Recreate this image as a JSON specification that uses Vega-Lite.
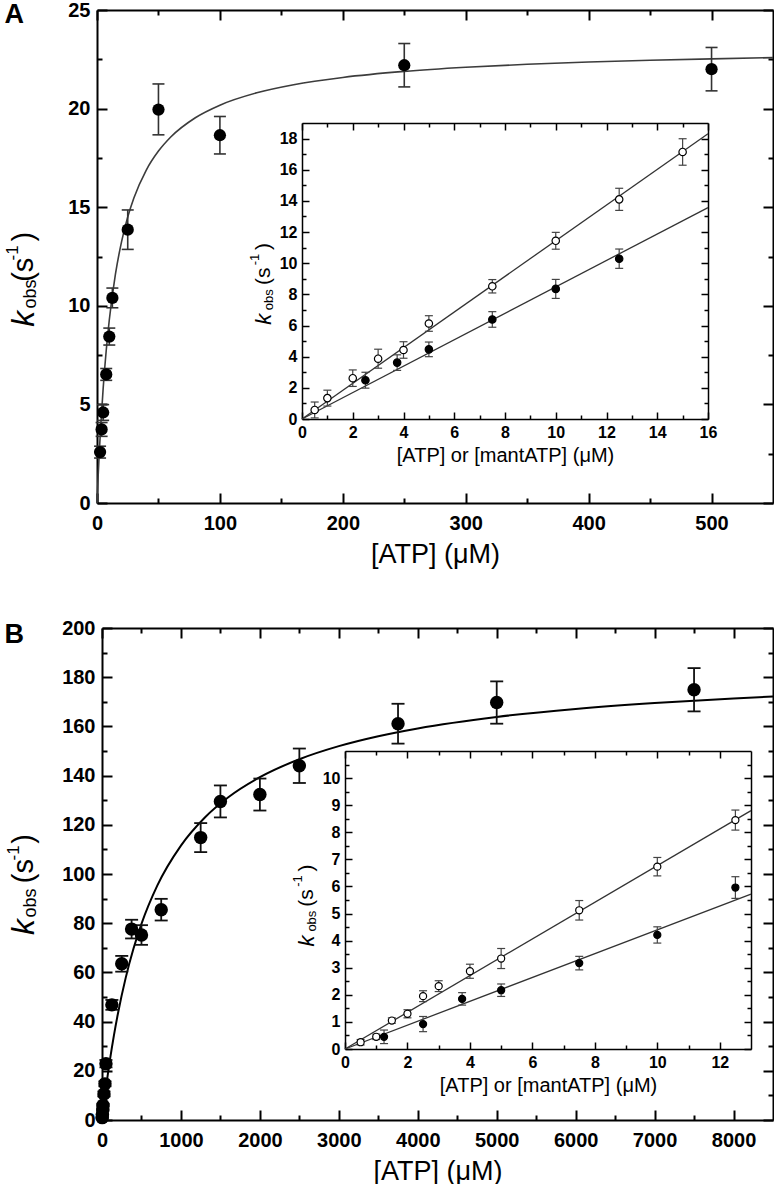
{
"$schema":"https://vega.github.io/schema/vega-lite/v6.json",
"padding":{"left":4,"top":0,"right":0,"bottom":0},
"background":"white",
"spacing":125,
"bounds":"flush",
"config":{"view":{"stroke":null},"axis":{"tickColor":"black","domainColor":"black","labelColor":"black","titleColor":"black","grid":false,"labelFont":"Liberation Sans","titleFont":"Liberation Sans","labelFontWeight":"bold","titleFontWeight":"normal","labelFlush":false,"labelOverlap":false,"labelBound":false,"format":"d","title":null}},
"datasets":{
"am":[{"x":2.5,"k":2.58,"lo":2.28,"hi":2.88},{"x":3.75,"k":3.73,"lo":3.38,"hi":4.08},{"x":5,"k":4.59,"lo":4.19,"hi":4.99},{"x":7.5,"k":6.52,"lo":6.22,"hi":6.82},{"x":10,"k":8.44,"lo":8.01,"hi":8.87},{"x":12.5,"k":10.4,"lo":9.9,"hi":10.9},{"x":25,"k":13.86,"lo":12.86,"hi":14.86},{"x":50,"k":19.95,"lo":18.67,"hi":21.25},{"x":100,"k":18.65,"lo":17.7,"hi":19.6},{"x":250,"k":22.2,"lo":21.1,"hi":23.3},{"x":500,"k":22.0,"lo":20.9,"hi":23.1}],
"af":[{"x":0,"k":0},{"x":1,"k":1.45},{"x":2,"k":2.729},{"x":3,"k":3.867},{"x":5,"k":5.8},{"x":7.5,"k":7.733},{"x":10,"k":9.28},{"x":15,"k":11.6},{"x":20,"k":13.257},{"x":25,"k":14.5},{"x":30,"k":15.467},{"x":40,"k":16.873},{"x":50,"k":17.846},{"x":60,"k":18.56},{"x":80,"k":19.537},{"x":100,"k":20.174},{"x":130,"k":20.8},{"x":160,"k":21.211},{"x":200,"k":21.581},{"x":250,"k":21.887},{"x":300,"k":22.095},{"x":350,"k":22.247},{"x":400,"k":22.361},{"x":450,"k":22.452},{"x":500,"k":22.524},{"x":550,"k":22.584}],
"ai":[{"x":0.5,"k":0.58,"lo":0.07,"hi":1.09,"type":"mantATP"},{"x":1,"k":1.34,"lo":0.83,"hi":1.85,"type":"mantATP"},{"x":2,"k":2.62,"lo":2.09,"hi":3.15,"type":"mantATP"},{"x":3,"k":3.87,"lo":3.26,"hi":4.48,"type":"mantATP"},{"x":4,"k":4.43,"lo":3.9,"hi":4.96,"type":"mantATP"},{"x":5,"k":6.13,"lo":5.63,"hi":6.63,"type":"mantATP"},{"x":7.5,"k":8.52,"lo":8.09,"hi":8.95,"type":"mantATP"},{"x":10,"k":11.44,"lo":10.9,"hi":11.98,"type":"mantATP"},{"x":12.5,"k":14.1,"lo":13.39,"hi":14.81,"type":"mantATP"},{"x":15,"k":17.14,"lo":16.29,"hi":17.99,"type":"mantATP"},{"x":2.5,"k":2.49,"lo":1.98,"hi":3.0,"type":"ATP"},{"x":3.75,"k":3.62,"lo":3.12,"hi":4.12,"type":"ATP"},{"x":5,"k":4.47,"lo":4.0,"hi":4.94,"type":"ATP"},{"x":7.5,"k":6.39,"lo":5.89,"hi":6.89,"type":"ATP"},{"x":10,"k":8.35,"lo":7.74,"hi":8.96,"type":"ATP"},{"x":12.5,"k":10.29,"lo":9.67,"hi":10.91,"type":"ATP"}],
"aif":[{"x":0,"k":0,"type":"mantATP"},{"x":16,"k":18.31,"type":"mantATP"},{"x":0,"k":0,"type":"ATP"},{"x":16,"k":13.57,"type":"ATP"}],
"bm":[{"x":2.5,"k":0.95,"lo":0.65,"hi":1.25},{"x":5,"k":2.2,"lo":1.9,"hi":2.5},{"x":10,"k":4.2,"lo":3.8,"hi":4.6},{"x":12.5,"k":6.0,"lo":5.5,"hi":6.5},{"x":25,"k":10.6,"lo":9.6,"hi":11.6},{"x":37.5,"k":14.7,"lo":13.7,"hi":15.7},{"x":50,"k":22.9,"lo":21.4,"hi":24.4},{"x":125,"k":46.8,"lo":44.8,"hi":48.8},{"x":250,"k":63.5,"lo":60.3,"hi":66.7},{"x":375,"k":77.6,"lo":73.8,"hi":81.4},{"x":500,"k":75.2,"lo":71.2,"hi":79.2},{"x":750,"k":85.5,"lo":81.1,"hi":89.9},{"x":1250,"k":114.8,"lo":108.9,"hi":120.7},{"x":1500,"k":129.5,"lo":123,"hi":136},{"x":2000,"k":132.3,"lo":125.8,"hi":138.8},{"x":2500,"k":144,"lo":137,"hi":151},{"x":3750,"k":161.1,"lo":153,"hi":169.2},{"x":5000,"k":169.7,"lo":161.1,"hi":178.3},{"x":7500,"k":174.9,"lo":166.1,"hi":183.7}],
"bf":[{"x":0,"k":0},{"x":10,"k":2.754},{"x":25,"k":6.736},{"x":50,"k":13.001},{"x":75,"k":18.841},{"x":100,"k":24.3},{"x":150,"k":34.21},{"x":200,"k":42.973},{"x":300,"k":57.771},{"x":400,"k":69.788},{"x":500,"k":79.739},{"x":700,"k":95.263},{"x":1000,"k":111.552},{"x":1300,"k":122.864},{"x":1600,"k":131.178},{"x":2000,"k":139.35},{"x":2500,"k":146.659},{"x":3000,"k":151.974},{"x":3500,"k":156.011},{"x":4000,"k":159.184},{"x":5000,"k":163.847},{"x":6000,"k":167.112},{"x":7000,"k":169.525},{"x":8000,"k":171.38},{"x":8500,"k":172.155}],
"bi":[{"x":0.5,"k":0.25,"lo":0.15,"hi":0.35,"type":"mantATP"},{"x":1,"k":0.45,"lo":0.35,"hi":0.55,"type":"mantATP"},{"x":1.5,"k":1.05,"lo":0.95,"hi":1.15,"type":"mantATP"},{"x":2,"k":1.3,"lo":1.15,"hi":1.45,"type":"mantATP"},{"x":2.5,"k":1.95,"lo":1.75,"hi":2.15,"type":"mantATP"},{"x":3,"k":2.32,"lo":2.12,"hi":2.52,"type":"mantATP"},{"x":4,"k":2.87,"lo":2.61,"hi":3.13,"type":"mantATP"},{"x":5,"k":3.34,"lo":2.97,"hi":3.71,"type":"mantATP"},{"x":7.5,"k":5.12,"lo":4.76,"hi":5.48,"type":"mantATP"},{"x":10,"k":6.73,"lo":6.39,"hi":7.07,"type":"mantATP"},{"x":12.5,"k":8.45,"lo":8.08,"hi":8.82,"type":"mantATP"},{"x":1.25,"k":0.45,"lo":0.2,"hi":0.7,"type":"ATP"},{"x":2.5,"k":0.92,"lo":0.64,"hi":1.2,"type":"ATP"},{"x":3.75,"k":1.85,"lo":1.62,"hi":2.08,"type":"ATP"},{"x":5,"k":2.17,"lo":1.94,"hi":2.4,"type":"ATP"},{"x":7.5,"k":3.17,"lo":2.92,"hi":3.42,"type":"ATP"},{"x":10,"k":4.21,"lo":3.91,"hi":4.51,"type":"ATP"},{"x":12.5,"k":5.96,"lo":5.56,"hi":6.36,"type":"ATP"}],
"bif":[{"x":0,"k":0,"type":"mantATP"},{"x":13,"k":8.8,"type":"mantATP"},{"x":0,"k":0,"type":"ATP"},{"x":13,"k":5.72,"type":"ATP"}]
},
"vconcat":[
{"width":676,"height":493,
 "resolve":{"scale":{"x":"independent","y":"independent"},"axis":{"x":"independent","y":"independent"}},
 "layer":[
  {"resolve":{"axis":{"x":"independent","y":"independent"}},
   "layer":[
    {"data":{"name":"af"},"mark":{"type":"line","color":"#3c3c3c","strokeWidth":1.6,"interpolate":"monotone"},
     "encoding":{"x":{"field":"x","type":"quantitative","scale":{"domain":[0,550],"nice":false,"zero":false},"axis":{"orient":"bottom","values":[0,100,200,300,400,500],"ticks":false,"tickSize":0,"domainWidth":2,"labelFontSize":20,"labelPadding":10,"title":"[ATP] (μM)","titleFontSize":27,"titlePadding":8}},
                 "y":{"field":"k","type":"quantitative","scale":{"domain":[0,25],"nice":false},"axis":{"orient":"left","values":[0,5,10,15,20,25],"ticks":false,"tickSize":0,"domainWidth":2,"labelFontSize":20,"labelPadding":7}}}},
    {"data":{"name":"am"},"mark":{"type":"rule","color":"#333333","strokeWidth":1.6},
     "encoding":{"x":{"field":"x","type":"quantitative","scale":{"domain":[0,550],"nice":false,"zero":false},"axis":{"orient":"top","offset":-493,"values":[0,100,200,300,400,500],"tickSize":10,"tickWidth":2,"domain":false,"labels":false}},
                 "y":{"field":"lo","type":"quantitative","scale":{"domain":[0,25],"nice":false},"axis":{"orient":"right","offset":-676,"values":[0,5,10,15,20,25],"tickSize":10,"tickWidth":2,"domain":false,"labels":false}},
                 "y2":{"field":"hi"}}},
    {"data":{"name":"am"},"mark":{"type":"tick","orient":"horizontal","size":12,"thickness":1.6,"color":"#333333","opacity":1},
     "encoding":{"x":{"field":"x","type":"quantitative","scale":{"domain":[0,550],"nice":false,"zero":false},"axis":{"orient":"top","offset":-493,"values":[50,150,250,350,450],"tickSize":5,"tickWidth":2,"domain":false,"labels":false}},
                 "y":{"field":"lo","type":"quantitative","scale":{"domain":[0,25],"nice":false},"axis":{"orient":"right","offset":-676,"values":[2.5,7.5,12.5,17.5,22.5],"tickSize":5,"tickWidth":2,"domain":false,"labels":false}}}},
    {"data":{"name":"am"},"mark":{"type":"tick","orient":"horizontal","size":12,"thickness":1.6,"color":"#333333","opacity":1},
     "encoding":{"x":{"field":"x","type":"quantitative","scale":{"domain":[0,550],"nice":false,"zero":false},"axis":{"orient":"bottom","offset":-493,"values":[0,100,200,300,400,500],"tickSize":10,"tickWidth":2,"domainWidth":2,"labels":false}},
                 "y":{"field":"hi","type":"quantitative","scale":{"domain":[0,25],"nice":false},"axis":{"orient":"left","offset":-676,"values":[0,5,10,15,20,25],"tickSize":10,"tickWidth":2,"domainWidth":2,"labels":false}}}},
    {"data":{"name":"am"},"mark":{"type":"point","filled":true,"size":150,"color":"black","opacity":1},
     "encoding":{"x":{"field":"x","type":"quantitative","scale":{"domain":[0,550],"nice":false,"zero":false},"axis":{"orient":"bottom","offset":-493,"values":[50,150,250,350,450],"tickSize":5,"tickWidth":2,"domain":false,"labels":false}},
                 "y":{"field":"k","type":"quantitative","scale":{"domain":[0,25],"nice":false},"axis":{"orient":"left","offset":-676,"values":[2.5,7.5,12.5,17.5,22.5],"tickSize":5,"tickWidth":2,"domain":false,"labels":false}}}},
    {"data":{"values":[{}]},"mark":{"type":"text","text":"A","font":"Liberation Sans","fontWeight":"bold","fontSize":27,"align":"center","baseline":"middle","color":"black"},
     "encoding":{"x":{"datum":-67.3,"type":"quantitative","scale":{"domain":[0,550],"nice":false,"zero":false},"axis":null},"y":{"datum":24.77,"type":"quantitative","scale":{"domain":[0,25],"nice":false},"axis":null}}},
    {"data":{"values":[{}]},"mark":{"type":"text","text":"k","font":"Liberation Sans","fontStyle":"italic","fontSize":32,"angle":270,"align":"center","baseline":"middle","color":"black"},
     "encoding":{"x":{"datum":-59.1,"type":"quantitative","scale":{"domain":[0,550],"nice":false,"zero":false},"axis":null},"y":{"datum":9.34,"type":"quantitative","scale":{"domain":[0,25],"nice":false},"axis":null}}},
    {"data":{"values":[{}]},"mark":{"type":"text","text":"obs","font":"Liberation Sans","fontSize":18,"angle":270,"align":"center","baseline":"middle","color":"black"},
     "encoding":{"x":{"datum":-53.7,"type":"quantitative","scale":{"domain":[0,550],"nice":false,"zero":false},"axis":null},"y":{"datum":10.6,"type":"quantitative","scale":{"domain":[0,25],"nice":false},"axis":null}}},
    {"data":{"values":[{}]},"mark":{"type":"text","text":"(s","font":"Liberation Sans","fontSize":29,"angle":270,"align":"center","baseline":"middle","color":"black"},
     "encoding":{"x":{"datum":-59.1,"type":"quantitative","scale":{"domain":[0,550],"nice":false,"zero":false},"axis":null},"y":{"datum":11.83,"type":"quantitative","scale":{"domain":[0,25],"nice":false},"axis":null}}},
    {"data":{"values":[{}]},"mark":{"type":"text","text":"-1","font":"Liberation Sans","fontSize":17,"angle":270,"align":"center","baseline":"middle","color":"black"},
     "encoding":{"x":{"datum":-68.1,"type":"quantitative","scale":{"domain":[0,550],"nice":false,"zero":false},"axis":null},"y":{"datum":12.68,"type":"quantitative","scale":{"domain":[0,25],"nice":false},"axis":null}}},
    {"data":{"values":[{}]},"mark":{"type":"text","text":")","font":"Liberation Sans","fontSize":29,"angle":270,"align":"center","baseline":"middle","color":"black"},
     "encoding":{"x":{"datum":-59.1,"type":"quantitative","scale":{"domain":[0,550],"nice":false,"zero":false},"axis":null},"y":{"datum":13.51,"type":"quantitative","scale":{"domain":[0,25],"nice":false},"axis":null}}}
   ]},
  {"resolve":{"axis":{"x":"independent","y":"independent"}},
   "layer":[
    {"data":{"name":"aif"},"mark":{"type":"line","color":"#333333","strokeWidth":1.3},
     "encoding":{"detail":{"field":"type"},
                 "x":{"field":"x","type":"quantitative","scale":{"domain":[0,16],"range":[205,611],"nice":false,"zero":false},"axis":{"orient":"bottom","offset":-84,"values":[0,2,4,6,8,10,12,14,16],"ticks":false,"tickSize":0,"domainWidth":1.5,"labelFontSize":16,"labelPadding":5,"title":"[ATP] or [mantATP] (μM)","titleFontSize":20,"titlePadding":5}},
                 "y":{"field":"k","type":"quantitative","scale":{"domain":[0,19],"range":[409,113],"nice":false,"zero":false},"axis":{"orient":"left","offset":-205,"values":[0,2,4,6,8,10,12,14,16,18],"ticks":false,"tickSize":0,"domainWidth":1.5,"labelFontSize":16,"labelPadding":5}}}},
    {"data":{"name":"ai"},"mark":{"type":"rule","color":"#444444","strokeWidth":1.2},
     "encoding":{"x":{"field":"x","type":"quantitative","scale":{"domain":[0,16],"range":[205,611],"nice":false,"zero":false},"axis":{"orient":"top","offset":-409,"values":[0,2,4,6,8,10,12,14,16],"tickSize":7,"tickWidth":1.5,"domain":false,"labels":false}},
                 "y":{"field":"lo","type":"quantitative","scale":{"domain":[0,19],"range":[409,113],"nice":false,"zero":false},"axis":{"orient":"right","offset":-471,"values":[0,2,4,6,8,10,12,14,16,18],"tickSize":7,"tickWidth":1.5,"domain":false,"labels":false}},
                 "y2":{"field":"hi"}}},
    {"data":{"name":"ai"},"mark":{"type":"tick","orient":"horizontal","size":8,"thickness":1.2,"color":"#444444","opacity":1},
     "encoding":{"x":{"field":"x","type":"quantitative","scale":{"domain":[0,16],"range":[205,611],"nice":false,"zero":false},"axis":{"orient":"top","offset":-409,"values":[1,3,5,7,9,11,13,15],"tickSize":4,"tickWidth":1.5,"domain":false,"labels":false}},
                 "y":{"field":"lo","type":"quantitative","scale":{"domain":[0,19],"range":[409,113],"nice":false,"zero":false},"axis":{"orient":"right","offset":-471,"values":[1,3,5,7,9,11,13,15,17],"tickSize":4,"tickWidth":1.5,"domain":false,"labels":false}}}},
    {"data":{"name":"ai"},"mark":{"type":"tick","orient":"horizontal","size":8,"thickness":1.2,"color":"#444444","opacity":1},
     "encoding":{"x":{"field":"x","type":"quantitative","scale":{"domain":[0,16],"range":[205,611],"nice":false,"zero":false},"axis":{"orient":"bottom","offset":-380,"values":[0,2,4,6,8,10,12,14,16],"tickSize":7,"tickWidth":1.5,"domainWidth":1.5,"labels":false}},
                 "y":{"field":"hi","type":"quantitative","scale":{"domain":[0,19],"range":[409,113],"nice":false,"zero":false},"axis":{"orient":"left","offset":-611,"values":[0,2,4,6,8,10,12,14,16,18],"tickSize":7,"tickWidth":1.5,"domainWidth":1.5,"labels":false}}}},
    {"data":{"name":"ai"},"mark":{"type":"point","shape":"circle","size":55,"stroke":"black","strokeWidth":1.2,"opacity":1,"fillOpacity":1},
     "encoding":{"fill":{"field":"type","type":"nominal","scale":{"domain":["ATP","mantATP"],"range":["black","white"]},"legend":null},
                 "x":{"field":"x","type":"quantitative","scale":{"domain":[0,16],"range":[205,611],"nice":false,"zero":false},"axis":{"orient":"bottom","offset":-380,"values":[1,3,5,7,9,11,13,15],"tickSize":4,"tickWidth":1.5,"domain":false,"labels":false}},
                 "y":{"field":"k","type":"quantitative","scale":{"domain":[0,19],"range":[409,113],"nice":false,"zero":false},"axis":{"orient":"left","offset":-611,"values":[1,3,5,7,9,11,13,15,17],"tickSize":4,"tickWidth":1.5,"domain":false,"labels":false}}}},
    {"data":{"values":[{}]},"mark":{"type":"text","text":"k","font":"Liberation Sans","fontStyle":"italic","fontSize":22,"angle":270,"align":"center","baseline":"middle","color":"black"},
     "encoding":{"x":{"datum":-1.495,"type":"quantitative","scale":{"domain":[0,16],"range":[205,611],"nice":false,"zero":false},"axis":null},"y":{"datum":6.41,"type":"quantitative","scale":{"domain":[0,19],"range":[409,113],"nice":false,"zero":false},"axis":null}}},
    {"data":{"values":[{}]},"mark":{"type":"text","text":"obs","font":"Liberation Sans","fontSize":13,"angle":270,"align":"center","baseline":"middle","color":"black"},
     "encoding":{"x":{"datum":-1.3,"type":"quantitative","scale":{"domain":[0,16],"range":[205,611],"nice":false,"zero":false},"axis":null},"y":{"datum":7.66,"type":"quantitative","scale":{"domain":[0,19],"range":[409,113],"nice":false,"zero":false},"axis":null}}},
    {"data":{"values":[{}]},"mark":{"type":"text","text":"(s","font":"Liberation Sans","fontSize":21,"angle":270,"align":"center","baseline":"middle","color":"black"},
     "encoding":{"x":{"datum":-1.495,"type":"quantitative","scale":{"domain":[0,16],"range":[205,611],"nice":false,"zero":false},"axis":null},"y":{"datum":9.16,"type":"quantitative","scale":{"domain":[0,19],"range":[409,113],"nice":false,"zero":false},"axis":null}}},
    {"data":{"values":[{}]},"mark":{"type":"text","text":"-1","font":"Liberation Sans","fontSize":13,"angle":270,"align":"center","baseline":"middle","color":"black"},
     "encoding":{"x":{"datum":-1.85,"type":"quantitative","scale":{"domain":[0,16],"range":[205,611],"nice":false,"zero":false},"axis":null},"y":{"datum":10.24,"type":"quantitative","scale":{"domain":[0,19],"range":[409,113],"nice":false,"zero":false},"axis":null}}},
    {"data":{"values":[{}]},"mark":{"type":"text","text":")","font":"Liberation Sans","fontSize":21,"angle":270,"align":"center","baseline":"middle","color":"black"},
     "encoding":{"x":{"datum":-1.495,"type":"quantitative","scale":{"domain":[0,16],"range":[205,611],"nice":false,"zero":false},"axis":null},"y":{"datum":11.07,"type":"quantitative","scale":{"domain":[0,19],"range":[409,113],"nice":false,"zero":false},"axis":null}}}
   ]}
 ]},
{"width":676,"height":492,
 "resolve":{"scale":{"x":"independent","y":"independent"},"axis":{"x":"independent","y":"independent"}},
 "layer":[
  {"resolve":{"axis":{"x":"independent","y":"independent"}},
   "layer":[
    {"data":{"name":"bf"},"mark":{"type":"line","color":"black","strokeWidth":2,"interpolate":"monotone"},
     "encoding":{"x":{"field":"x","type":"quantitative","scale":{"domain":[0,8500],"range":[5,676],"nice":false,"zero":false},"axis":{"orient":"bottom","values":[0,1000,2000,3000,4000,5000,6000,7000,8000],"ticks":false,"tickSize":0,"domainWidth":2,"labelFontSize":20,"labelPadding":10,"title":"[ATP] (μM)","titleFontSize":27,"titlePadding":8}},
                 "y":{"field":"k","type":"quantitative","scale":{"domain":[0,200],"nice":false},"axis":{"orient":"left","offset":-5,"values":[0,20,40,60,80,100,120,140,160,180,200],"ticks":false,"tickSize":0,"domainWidth":2,"labelFontSize":20,"labelPadding":7}}}},
    {"data":{"name":"bm"},"mark":{"type":"rule","color":"#111111","strokeWidth":1.8},
     "encoding":{"x":{"field":"x","type":"quantitative","scale":{"domain":[0,8500],"range":[5,676],"nice":false,"zero":false},"axis":{"orient":"top","offset":-492,"values":[0,1000,2000,3000,4000,5000,6000,7000,8000],"tickSize":10,"tickWidth":2,"domain":false,"labels":false}},
                 "y":{"field":"lo","type":"quantitative","scale":{"domain":[0,200],"nice":false},"axis":{"orient":"right","offset":-671,"values":[0,20,40,60,80,100,120,140,160,180,200],"tickSize":10,"tickWidth":2,"domain":false,"labels":false}},
                 "y2":{"field":"hi"}}},
    {"data":{"name":"bm"},"mark":{"type":"tick","orient":"horizontal","size":13,"thickness":1.8,"color":"#111111","opacity":1},
     "encoding":{"x":{"field":"x","type":"quantitative","scale":{"domain":[0,8500],"range":[5,676],"nice":false,"zero":false},"axis":{"orient":"top","offset":-492,"values":[500,1500,2500,3500,4500,5500,6500,7500],"tickSize":5,"tickWidth":2,"domain":false,"labels":false}},
                 "y":{"field":"lo","type":"quantitative","scale":{"domain":[0,200],"nice":false},"axis":{"orient":"right","offset":-671,"values":[10,30,50,70,90,110,130,150,170,190],"tickSize":5,"tickWidth":2,"domain":false,"labels":false}}}},
    {"data":{"name":"bm"},"mark":{"type":"tick","orient":"horizontal","size":13,"thickness":1.8,"color":"#111111","opacity":1},
     "encoding":{"x":{"field":"x","type":"quantitative","scale":{"domain":[0,8500],"range":[5,676],"nice":false,"zero":false},"axis":{"orient":"bottom","offset":-492,"values":[0,1000,2000,3000,4000,5000,6000,7000,8000],"tickSize":10,"tickWidth":2,"domainWidth":2,"labels":false}},
                 "y":{"field":"hi","type":"quantitative","scale":{"domain":[0,200],"nice":false},"axis":{"orient":"left","offset":-676,"values":[0,20,40,60,80,100,120,140,160,180,200],"tickSize":10,"tickWidth":2,"domainWidth":2,"labels":false}}}},
    {"data":{"name":"bm"},"mark":{"type":"point","filled":true,"size":180,"color":"black","opacity":1},
     "encoding":{"x":{"field":"x","type":"quantitative","scale":{"domain":[0,8500],"range":[5,676],"nice":false,"zero":false},"axis":{"orient":"bottom","offset":-492,"values":[500,1500,2500,3500,4500,5500,6500,7500],"tickSize":5,"tickWidth":2,"domain":false,"labels":false}},
                 "y":{"field":"k","type":"quantitative","scale":{"domain":[0,200],"nice":false},"axis":{"orient":"left","offset":-676,"values":[10,30,50,70,90,110,130,150,170,190],"tickSize":5,"tickWidth":2,"domain":false,"labels":false}}}},
    {"data":{"values":[{}]},"mark":{"type":"text","text":"B","font":"Liberation Sans","fontWeight":"bold","fontSize":27,"align":"center","baseline":"middle","color":"black"},
     "encoding":{"x":{"datum":-1111,"type":"quantitative","scale":{"domain":[0,8500],"range":[5,676],"nice":false,"zero":false},"axis":null},"y":{"datum":197,"type":"quantitative","scale":{"domain":[0,200],"nice":false},"axis":null}}},
    {"data":{"values":[{}]},"mark":{"type":"text","text":"k","font":"Liberation Sans","fontStyle":"italic","fontSize":32,"angle":270,"align":"center","baseline":"middle","color":"black"},
     "encoding":{"x":{"datum":-984,"type":"quantitative","scale":{"domain":[0,8500],"range":[5,676],"nice":false,"zero":false},"axis":null},"y":{"datum":78.5,"type":"quantitative","scale":{"domain":[0,200],"nice":false},"axis":null}}},
    {"data":{"values":[{}]},"mark":{"type":"text","text":"obs","font":"Liberation Sans","fontSize":18,"angle":270,"align":"center","baseline":"middle","color":"black"},
     "encoding":{"x":{"datum":-899,"type":"quantitative","scale":{"domain":[0,8500],"range":[5,676],"nice":false,"zero":false},"axis":null},"y":{"datum":88.2,"type":"quantitative","scale":{"domain":[0,200],"nice":false},"axis":null}}},
    {"data":{"values":[{}]},"mark":{"type":"text","text":"(s","font":"Liberation Sans","fontSize":29,"angle":270,"align":"center","baseline":"middle","color":"black"},
     "encoding":{"x":{"datum":-984,"type":"quantitative","scale":{"domain":[0,8500],"range":[5,676],"nice":false,"zero":false},"axis":null},"y":{"datum":101.2,"type":"quantitative","scale":{"domain":[0,200],"nice":false},"axis":null}}},
    {"data":{"values":[{}]},"mark":{"type":"text","text":"-1","font":"Liberation Sans","fontSize":17,"angle":270,"align":"center","baseline":"middle","color":"black"},
     "encoding":{"x":{"datum":-1111,"type":"quantitative","scale":{"domain":[0,8500],"range":[5,676],"nice":false,"zero":false},"axis":null},"y":{"datum":108.6,"type":"quantitative","scale":{"domain":[0,200],"nice":false},"axis":null}}},
    {"data":{"values":[{}]},"mark":{"type":"text","text":")","font":"Liberation Sans","fontSize":29,"angle":270,"align":"center","baseline":"middle","color":"black"},
     "encoding":{"x":{"datum":-984,"type":"quantitative","scale":{"domain":[0,8500],"range":[5,676],"nice":false,"zero":false},"axis":null},"y":{"datum":114.3,"type":"quantitative","scale":{"domain":[0,200],"nice":false},"axis":null}}}
   ]},
  {"resolve":{"axis":{"x":"independent","y":"independent"}},
   "layer":[
    {"data":{"name":"bif"},"mark":{"type":"line","color":"#333333","strokeWidth":1.3},
     "encoding":{"detail":{"field":"type"},
                 "x":{"field":"x","type":"quantitative","scale":{"domain":[0,13],"range":[248,654],"nice":false,"zero":false},"axis":{"orient":"bottom","offset":-71,"values":[0,2,4,6,8,10,12],"ticks":false,"tickSize":0,"domainWidth":1.5,"labelFontSize":16,"labelPadding":5,"title":"[ATP] or [mantATP] (μM)","titleFontSize":20,"titlePadding":5}},
                 "y":{"field":"k","type":"quantitative","scale":{"domain":[0,11],"range":[421,123],"nice":false,"zero":false},"axis":{"orient":"left","offset":-248,"values":[0,1,2,3,4,5,6,7,8,9,10],"ticks":false,"tickSize":0,"domainWidth":1.5,"labelFontSize":16,"labelPadding":5}}}},
    {"data":{"name":"bi"},"mark":{"type":"rule","color":"#444444","strokeWidth":1.2},
     "encoding":{"x":{"field":"x","type":"quantitative","scale":{"domain":[0,13],"range":[248,654],"nice":false,"zero":false},"axis":{"orient":"top","offset":-421,"values":[0,2,4,6,8,10,12],"tickSize":7,"tickWidth":1.5,"domain":false,"labels":false}},
                 "y":{"field":"lo","type":"quantitative","scale":{"domain":[0,11],"range":[421,123],"nice":false,"zero":false},"axis":{"orient":"right","offset":-428,"values":[0,1,2,3,4,5,6,7,8,9,10],"tickSize":7,"tickWidth":1.5,"domain":false,"labels":false}},
                 "y2":{"field":"hi"}}},
    {"data":{"name":"bi"},"mark":{"type":"tick","orient":"horizontal","size":8,"thickness":1.2,"color":"#444444","opacity":1},
     "encoding":{"x":{"field":"x","type":"quantitative","scale":{"domain":[0,13],"range":[248,654],"nice":false,"zero":false},"axis":{"orient":"top","offset":-421,"values":[1,3,5,7,9,11],"tickSize":4,"tickWidth":1.5,"domain":false,"labels":false}},
                 "y":{"field":"lo","type":"quantitative","scale":{"domain":[0,11],"range":[421,123],"nice":false,"zero":false},"axis":{"orient":"right","offset":-428,"values":[0.5,1.5,2.5,3.5,4.5,5.5,6.5,7.5,8.5,9.5,10.5],"tickSize":4,"tickWidth":1.5,"domain":false,"labels":false}}}},
    {"data":{"name":"bi"},"mark":{"type":"tick","orient":"horizontal","size":8,"thickness":1.2,"color":"#444444","opacity":1},
     "encoding":{"x":{"field":"x","type":"quantitative","scale":{"domain":[0,13],"range":[248,654],"nice":false,"zero":false},"axis":{"orient":"bottom","offset":-369,"values":[0,2,4,6,8,10,12],"tickSize":7,"tickWidth":1.5,"domainWidth":1.5,"labels":false}},
                 "y":{"field":"hi","type":"quantitative","scale":{"domain":[0,11],"range":[421,123],"nice":false,"zero":false},"axis":{"orient":"left","offset":-654,"values":[0,1,2,3,4,5,6,7,8,9,10],"tickSize":7,"tickWidth":1.5,"domainWidth":1.5,"labels":false}}}},
    {"data":{"name":"bi"},"mark":{"type":"point","shape":"circle","size":50,"stroke":"black","strokeWidth":1.2,"opacity":1,"fillOpacity":1},
     "encoding":{"fill":{"field":"type","type":"nominal","scale":{"domain":["ATP","mantATP"],"range":["black","white"]},"legend":null},
                 "x":{"field":"x","type":"quantitative","scale":{"domain":[0,13],"range":[248,654],"nice":false,"zero":false},"axis":{"orient":"bottom","offset":-369,"values":[1,3,5,7,9,11],"tickSize":4,"tickWidth":1.5,"domain":false,"labels":false}},
                 "y":{"field":"k","type":"quantitative","scale":{"domain":[0,11],"range":[421,123],"nice":false,"zero":false},"axis":{"orient":"left","offset":-654,"values":[0.5,1.5,2.5,3.5,4.5,5.5,6.5,7.5,8.5,9.5,10.5],"tickSize":4,"tickWidth":1.5,"domain":false,"labels":false}}}},
    {"data":{"values":[{}]},"mark":{"type":"text","text":"k","font":"Liberation Sans","fontStyle":"italic","fontSize":22,"angle":270,"align":"center","baseline":"middle","color":"black"},
     "encoding":{"x":{"datum":-1.218,"type":"quantitative","scale":{"domain":[0,13],"range":[248,654],"nice":false,"zero":false},"axis":null},"y":{"datum":3.99,"type":"quantitative","scale":{"domain":[0,11],"range":[421,123],"nice":false,"zero":false},"axis":null}}},
    {"data":{"values":[{}]},"mark":{"type":"text","text":"obs","font":"Liberation Sans","fontSize":13,"angle":270,"align":"center","baseline":"middle","color":"black"},
     "encoding":{"x":{"datum":-1.058,"type":"quantitative","scale":{"domain":[0,13],"range":[248,654],"nice":false,"zero":false},"axis":null},"y":{"datum":4.72,"type":"quantitative","scale":{"domain":[0,11],"range":[421,123],"nice":false,"zero":false},"axis":null}}},
    {"data":{"values":[{}]},"mark":{"type":"text","text":"(s","font":"Liberation Sans","fontSize":21,"angle":270,"align":"center","baseline":"middle","color":"black"},
     "encoding":{"x":{"datum":-1.218,"type":"quantitative","scale":{"domain":[0,13],"range":[248,654],"nice":false,"zero":false},"axis":null},"y":{"datum":5.57,"type":"quantitative","scale":{"domain":[0,11],"range":[421,123],"nice":false,"zero":false},"axis":null}}},
    {"data":{"values":[{}]},"mark":{"type":"text","text":"-1","font":"Liberation Sans","fontSize":13,"angle":270,"align":"center","baseline":"middle","color":"black"},
     "encoding":{"x":{"datum":-1.506,"type":"quantitative","scale":{"domain":[0,13],"range":[248,654],"nice":false,"zero":false},"axis":null},"y":{"datum":6.2,"type":"quantitative","scale":{"domain":[0,11],"range":[421,123],"nice":false,"zero":false},"axis":null}}},
    {"data":{"values":[{}]},"mark":{"type":"text","text":")","font":"Liberation Sans","fontSize":21,"angle":270,"align":"center","baseline":"middle","color":"black"},
     "encoding":{"x":{"datum":-1.218,"type":"quantitative","scale":{"domain":[0,13],"range":[248,654],"nice":false,"zero":false},"axis":null},"y":{"datum":6.68,"type":"quantitative","scale":{"domain":[0,11],"range":[421,123],"nice":false,"zero":false},"axis":null}}}
   ]}
 ]}
]
}
